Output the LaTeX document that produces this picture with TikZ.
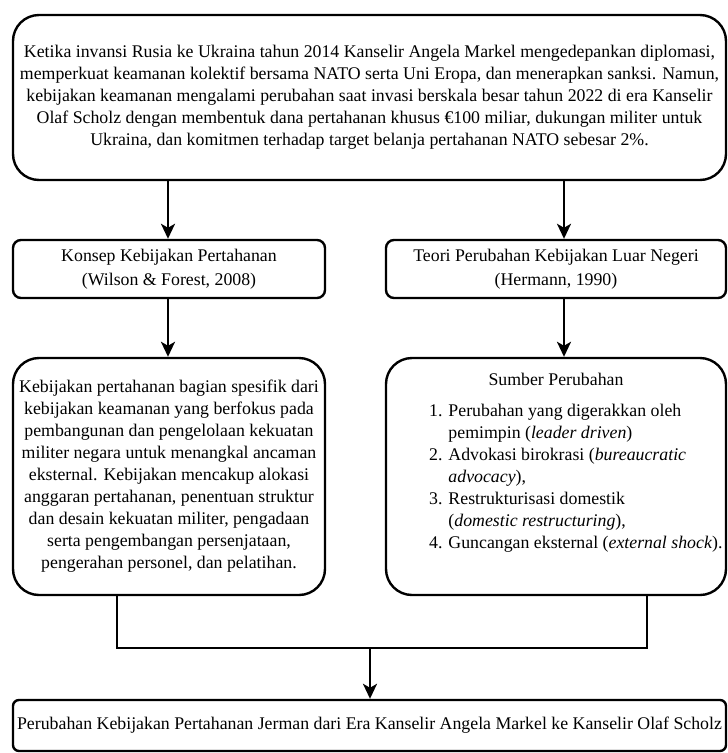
\documentclass[tikz,border=0pt]{standalone}
\usepackage{fontspec}
\setmainfont{Liberation Serif}[ItalicFont={Liberation Serif Italic}]
\usetikzlibrary{arrows.meta}
\begin{document}
\begin{tikzpicture}[x=1pt,y=-1pt,
  txt/.style={inner sep=0pt, font=\fontsize{17.8}{22}\selectfont},
  box/.style={txt, draw, line width=2.4pt, align=center},
  bigbox/.style={box, rounded corners=26pt},
  smallbox/.style={box, rounded corners=8pt},
  arr/.style={line width=2.4pt, -{Stealth[length=15pt,width=14pt,inset=4pt]}},
  conn/.style={line width=2.4pt}]
\useasboundingbox (0,0) rectangle (728,753);

\node[bigbox, minimum width=713pt, minimum height=165pt] (top) at (369.5,97.5)
{Ketika invansi Rusia ke Ukraina tahun 2014 Kanselir Angela Markel mengedepankan diplomasi,\\
memperkuat keamanan kolektif bersama NATO serta Uni Eropa, dan menerapkan sanksi. Namun,\\
kebijakan keamanan mengalami perubahan saat invasi berskala besar tahun 2022 di era Kanselir\\
Olaf Scholz dengan membentuk dana pertahanan khusus €100 miliar, dukungan militer untuk\\
Ukraina, dan komitmen terhadap target belanja pertahanan NATO sebesar 2\%.};

\node[smallbox, font=\fontsize{17.8}{24}\selectfont, minimum width=312pt, minimum height=58pt] (konsep) at (169,269)
{Konsep Kebijakan Pertahanan\\(Wilson \& Forest, 2008)};
\node[smallbox, font=\fontsize{17.8}{24}\selectfont, minimum width=340pt, minimum height=58pt] (teori) at (556,269)
{Teori Perubahan Kebijakan Luar Negeri\\(Hermann, 1990)};

\node[bigbox, minimum width=312pt, minimum height=237pt] (kebijakan) at (169,476.5)
{Kebijakan pertahanan bagian spesifik dari\\
kebijakan keamanan yang berfokus pada\\
pembangunan dan pengelolaan kekuatan\\
militer negara untuk menangkal ancaman\\
eksternal. Kebijakan mencakup alokasi\\
anggaran pertahanan, penentuan struktur\\
dan desain kekuatan militer, pengadaan\\
serta pengembangan persenjataan,\\
pengerahan personel, dan pelatihan.};

\node[bigbox, minimum width=340pt, minimum height=237pt] (sumber) at (556,476.5) {};
\node[txt] (sumbertitle) at (556,379) {Sumber Perubahan};
\node[txt, align=left, anchor=north west] (sumberlist) at (429,404)
{1. Perubahan yang digerakkan oleh\\
\hphantom{1. }pemimpin (\textit{leader driven})\\
2. Advokasi birokrasi (\textit{bureaucratic}\\
\hphantom{2. }\textit{advocacy}),\\
3. Restrukturisasi domestik\\
\hphantom{3. }(\textit{domestic restructuring}),\\
4. Guncangan eksternal (\textit{external shock}).};

\node[smallbox, rounded corners=6pt, minimum width=713pt, minimum height=51pt] (hasil) at (369.5,725.5)
{Perubahan Kebijakan Pertahanan Jerman dari Era Kanselir Angela Markel ke Kanselir Olaf Scholz};

\coordinate (lx) at (168,0);
\coordinate (rx) at (564,0);
\coordinate (jl) at (117,648);
\coordinate (jr) at (647,648);
\coordinate (jm) at (370,648);

\draw[arr] (top.south -| lx) -- (konsep.north -| lx);
\draw[arr] (top.south -| rx) -- (teori.north -| rx);
\draw[arr] (konsep.south -| lx) -- (kebijakan.north -| lx);
\draw[arr] (teori.south -| rx) -- (sumber.north -| rx);
\draw[conn] (kebijakan.south -| jl) -- (jl) -- (jr) -- (sumber.south -| jr);
\draw[arr] (jm) -- (hasil.north -| jm);
\end{tikzpicture}
\end{document}
